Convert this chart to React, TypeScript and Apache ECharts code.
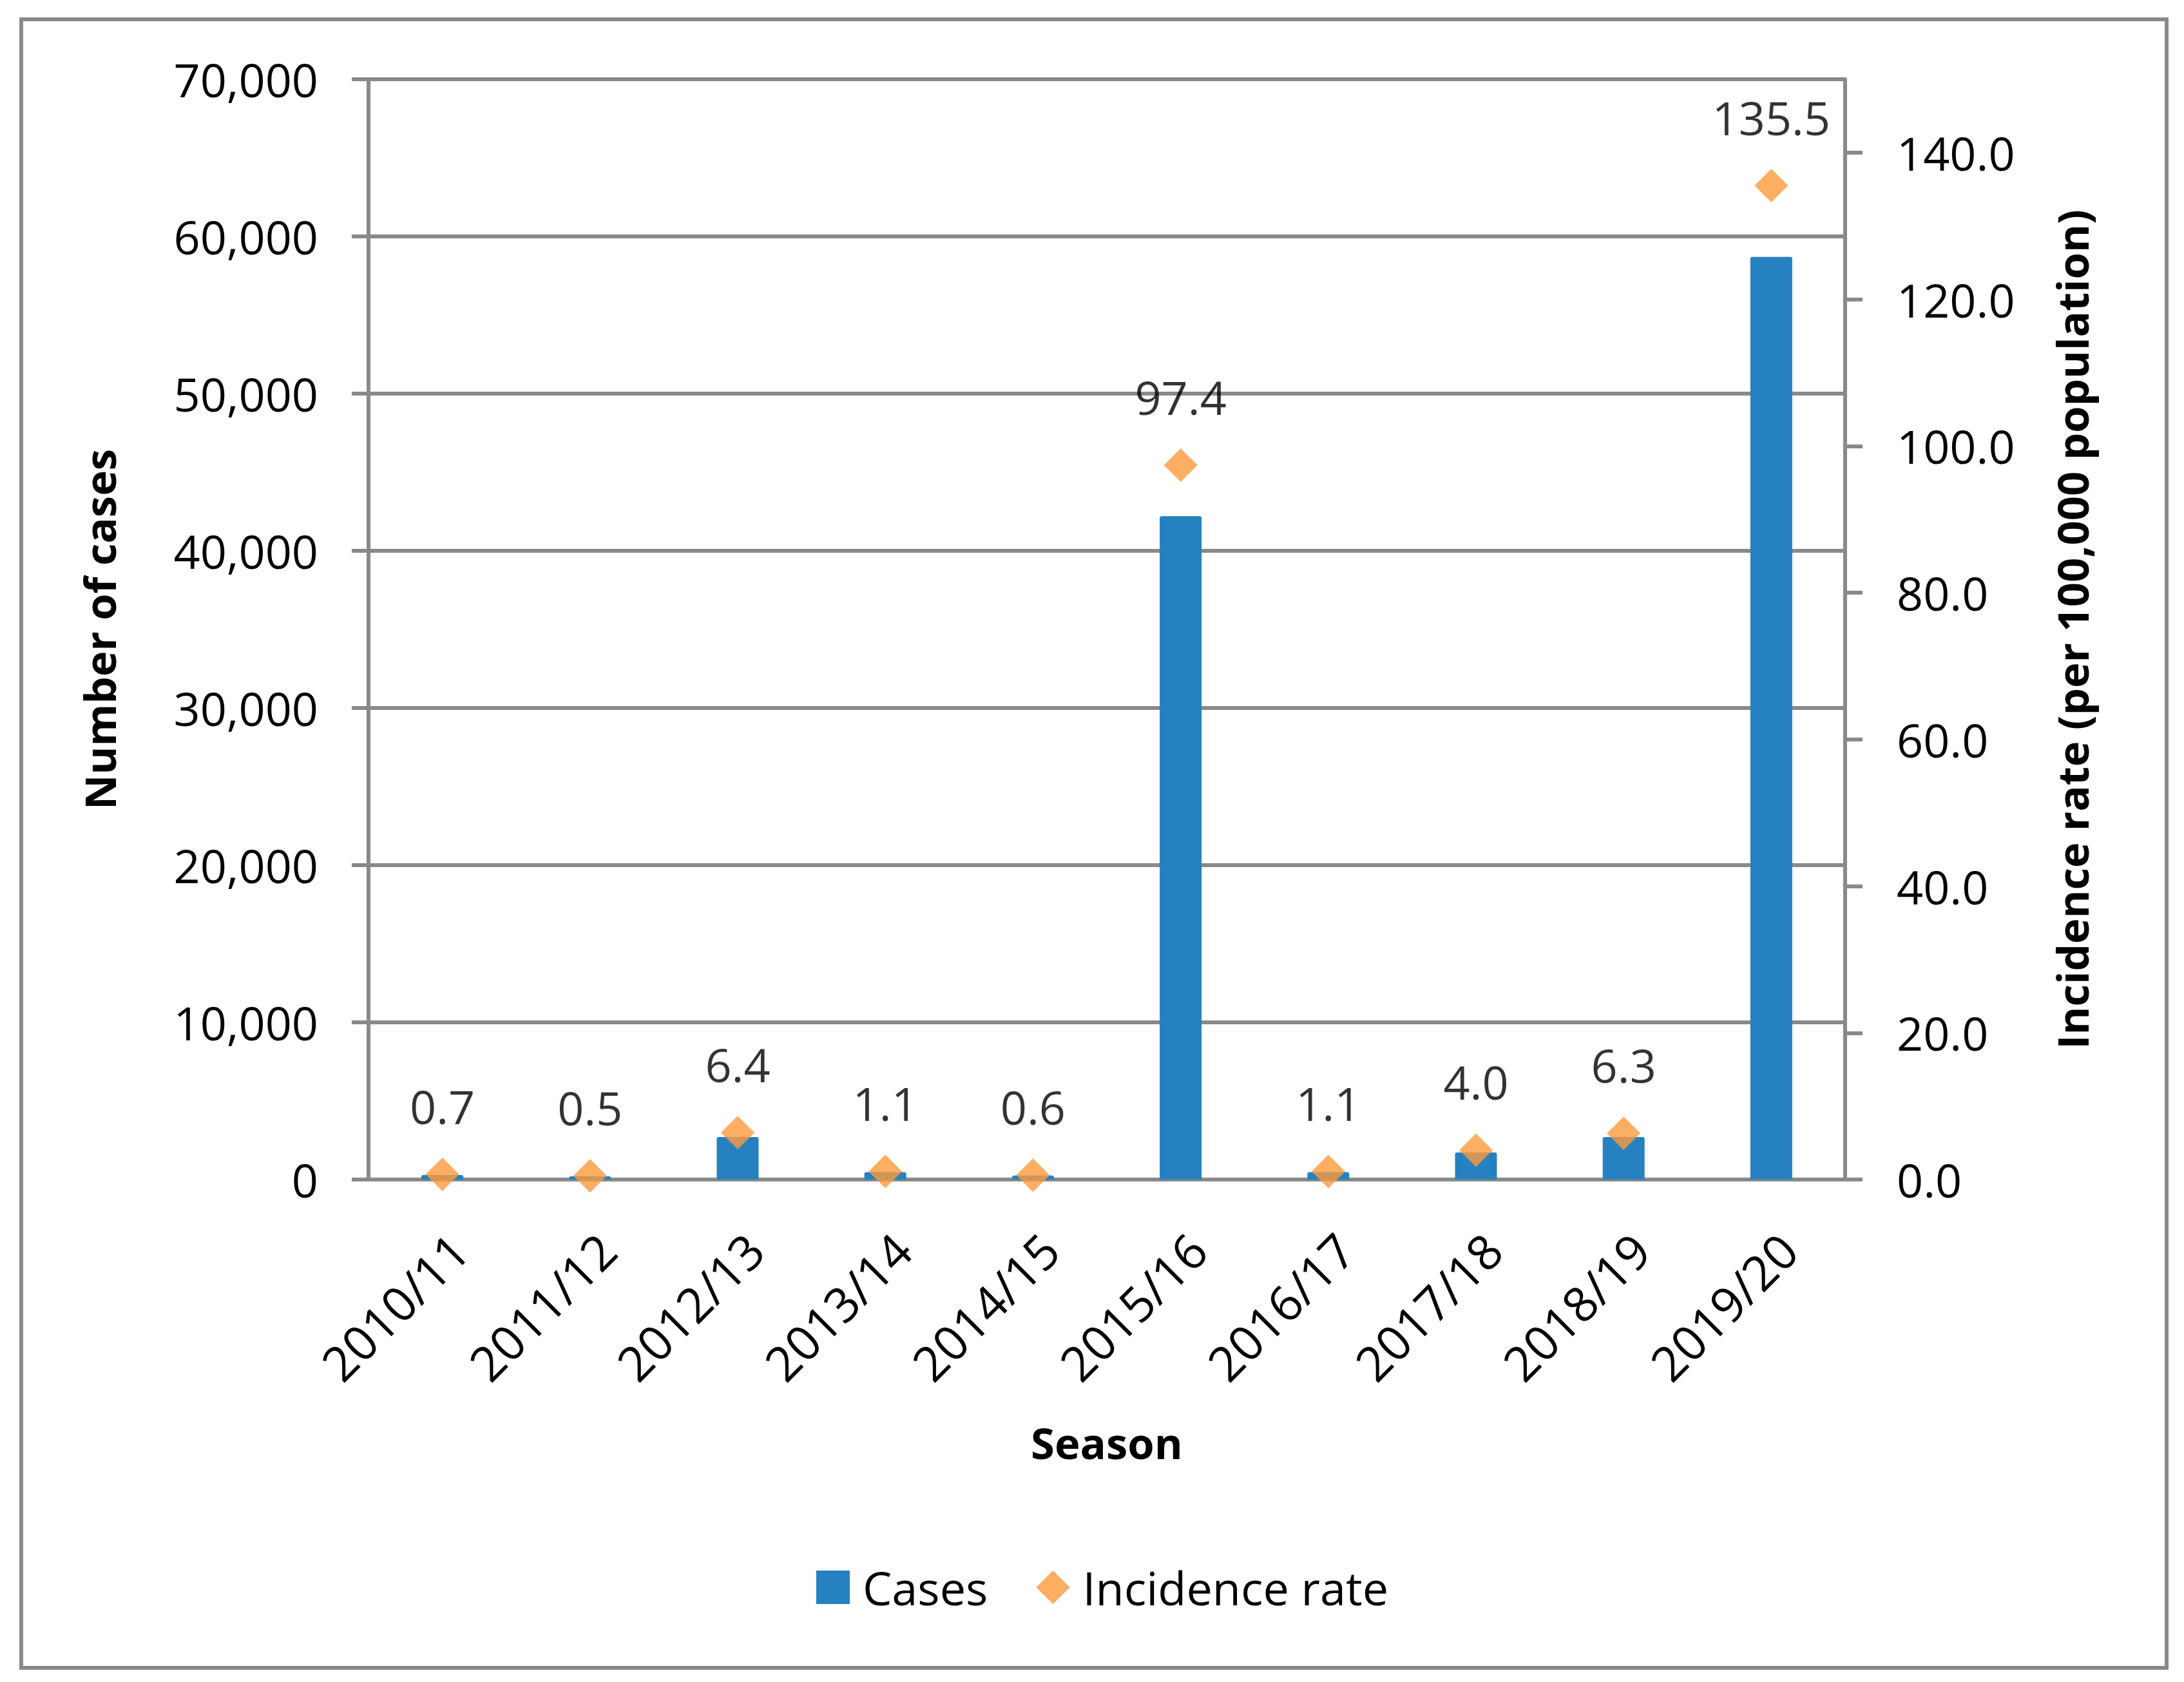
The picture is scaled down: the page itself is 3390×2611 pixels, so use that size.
import React, { useEffect, useRef } from "react";
import * as echarts from "echarts";

const categories = ["2010/11", "2011/12", "2012/13", "2013/14", "2014/15", "2015/16", "2016/17", "2017/18", "2018/19", "2019/20"];
const cases = [290, 210, 2700, 470, 260, 42200, 470, 1720, 2700, 58700];
const incidenceRate = [0.7, 0.5, 6.4, 1.1, 0.6, 97.4, 1.1, 4.0, 6.3, 135.5];
const rightTickValues = [0, 20, 40, 60, 80, 100, 120, 140];

const FONT = "Open Sans";
const GRAY = "#898989";
const BLUE = "#2681c0";
const ORANGE = "#fd9a3c";

export default function App() {
  const ref = useRef<HTMLDivElement>(null);
  useEffect(() => {
    document.body.style.margin = "0";
    const chart = echarts.init(ref.current!, null, { renderer: "svg" });
    chart.setOption({
      animation: false,
      backgroundColor: "#ffffff",
      textStyle: { fontFamily: FONT },
      graphic: [
        {
          type: "rect",
          shape: { x: 33, y: 30, width: 3330, height: 2559 },
          style: { fill: "none", stroke: GRAY, lineWidth: 6 },
          silent: true,
        },
      ],
      legend: {
        left: 1267,
        top: 2428,
        padding: 0,
        itemWidth: 52,
        itemHeight: 52,
        itemGap: 75,
        textStyle: { fontFamily: FONT, fontSize: 72, color: "#000", padding: [0, 0, 0, 15] },
        data: [
          { name: "Cases", icon: "rect" },
          { name: "Incidence rate", icon: "diamond" },
        ],
      },
      grid: {
        left: 572,
        right: 526,
        top: 123,
        bottom: 780,
        containLabel: false,
        outerBoundsMode: "none",
      },
      xAxis: {
        type: "category",
        data: categories,
        name: "Season",
        nameLocation: "middle",
        nameGap: 374,
        nameTextStyle: { fontFamily: FONT, fontSize: 67, fontWeight: "bold", color: "#000" },
        axisLine: { show: true, lineStyle: { color: GRAY, width: 6 } },
        axisTick: { show: false },
        axisLabel: {
          rotate: 45,
          interval: 0,
          margin: 70,
          verticalAlign: "top",
          fontFamily: FONT,
          fontSize: 75,
          color: "#000",
        },
      },
      yAxis: [
        {
          type: "value",
          min: 0,
          max: 70000,
          interval: 10000,
          name: "Number of cases",
          nameLocation: "middle",
          nameGap: 385,
          nameTextStyle: { fontFamily: FONT, fontSize: 67, fontWeight: "bold", color: "#000" },
          axisLine: { show: true, lineStyle: { color: GRAY, width: 6 } },
          axisTick: { show: true, length: 26, lineStyle: { color: GRAY, width: 6 } },
          axisLabel: {
            margin: 78,
            fontFamily: FONT,
            fontSize: 72,
            color: "#000",
            formatter: (v: number) => v.toLocaleString("en-US"),
          },
          splitLine: { show: true, lineStyle: { color: GRAY, width: 6 } },
        },
        {
          type: "value",
          min: 0,
          max: 150,
          position: "right",
          name: "Incidence rate (per 100,000 population)",
          nameLocation: "middle",
          nameGap: 318,
          nameRotate: 90,
          nameTextStyle: { fontFamily: FONT, fontSize: 67, fontWeight: "bold", color: "#000" },
          axisLine: { show: true, lineStyle: { color: GRAY, width: 6 } },
          axisTick: { show: true, length: 27, customValues: rightTickValues, lineStyle: { color: GRAY, width: 6 } },
          axisLabel: {
            margin: 80,
            fontFamily: FONT,
            fontSize: 72,
            color: "#000",
            customValues: rightTickValues,
            formatter: (v: number) => v.toFixed(1),
          },
          splitLine: { show: false },
        },
      ],
      series: [
        {
          name: "Cases",
          type: "bar",
          yAxisIndex: 0,
          data: cases,
          barWidth: 65,
          itemStyle: { color: BLUE, borderRadius: [3, 3, 0, 0] },
        },
        {
          name: "Incidence rate",
          type: "scatter",
          yAxisIndex: 1,
          data: incidenceRate,
          symbol: "diamond",
          symbolSize: 52,
          itemStyle: { color: ORANGE },
          label: {
            show: true,
            position: "top",
            distance: 44,
            fontFamily: FONT,
            fontSize: 72,
            color: "#000",
            formatter: (p: any) => Number(p.value).toFixed(1),
          },
        },
      ],
    });
    return () => chart.dispose();
  }, []);
  return <div ref={ref} style={{ width: 3390, height: 2611, overflow: "hidden" }} />;
}
